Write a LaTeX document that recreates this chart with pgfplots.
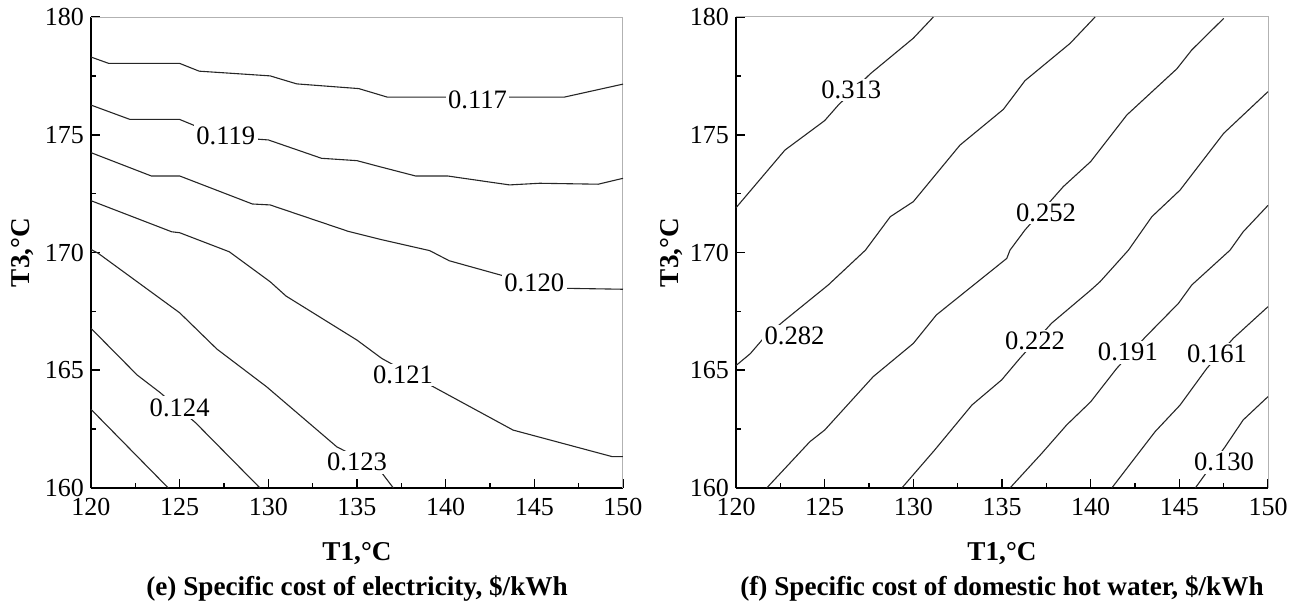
\documentclass[border=0pt]{standalone}
\usepackage{fontspec}
\setmainfont{Liberation Serif}
\usepackage{pgfplots}
\pgfplotsset{compat=1.18}

\pgfplotsset{
  costmap/.style={
    scale only axis, width=266pt, height=235.5pt,
    xmin=120, xmax=150, ymin=160, ymax=180,
    xtick={120,125,...,150}, ytick={160,165,...,180},
    minor x tick num=1, minor y tick num=1,
    axis x line*=bottom, axis y line*=left,
    axis line style={black, line width=1.1pt},
    tick align=inside, major tick length=4.5pt, minor tick length=2.5pt,
    tick style={black, line width=0.8pt},
    tick label style={font=\fontsize{13}{15}\selectfont},
    xticklabel style={yshift=-1.5pt},
    /pgf/number format/assume math mode=true,
    label style={font=\bfseries\fontsize{13.6}{16}\selectfont},
    x label style={at={(axis description cs:0.5,0)}, anchor=base, yshift=-36pt},
    clip=false,
  },
  cline/.style={black!85, line width=0.55pt, no marks},
}
\tikzset{
  lbl/.style={fill=white, inner sep=1.2pt, font=\fontsize{13.3}{15}\selectfont},
  captext/.style={font=\bfseries\fontsize{13.6}{16}\selectfont, anchor=base},
}

\begin{document}
\begin{tikzpicture}
% (e) electricity
\begin{axis}[costmap, at={(0,0)},
    xlabel={T1,°C}, ylabel={T3,°C},
    y label style={at={(axis description cs:-0.115,0.5)}, anchor=base}]
  \draw[gray!60, line width=0.5pt] (rel axis cs:0,1) -- (rel axis cs:1,1) -- (rel axis cs:1,0);
  \addplot[cline] coordinates {(120,178.3)(121,178.03)(125,178.03)(126.1,177.7)(130.1,177.5)(131.6,177.16)(135.1,176.96)(136.7,176.6)(146.7,176.6)(150,177.15)};
  \addplot[cline] coordinates {(120,176.26)(122.2,175.65)(125,175.65)(125.9,175.37)(129.25,174.82)(130,174.78)(133,174.0)(135,173.9)(136.3,173.64)(138.3,173.25)(140.1,173.25)(143.6,172.87)(145.3,172.94)(148.6,172.9)(150,173.15)};
  \addplot[cline] coordinates {(120,174.24)(123.4,173.25)(125,173.25)(129.1,172.06)(130.1,172.02)(134.5,170.9)(136.3,170.56)(139.1,170.08)(140.2,169.65)(143.3,169.0)(146.7,168.48)(150,168.44)};
  \addplot[cline] coordinates {(120,172.2)(124.55,170.88)(125,170.84)(127.8,170.03)(130.1,168.76)(131,168.15)(135,166.28)(136.4,165.5)(139.3,164.3)(143.8,162.46)(149.4,161.33)(150,161.33)};
  \addplot[cline] coordinates {(120,170.13)(120.4,169.97)(125,167.44)(127.1,165.9)(129.9,164.3)(133.86,161.75)(136.2,160.84)(137.05,160)};
  \addplot[cline] coordinates {(120,166.78)(122.6,164.8)(123.9,164.05)(125.9,162.77)(129.53,160)};
  \addplot[cline] coordinates {(120,163.34)(124.36,160)};
  \node[lbl] at (axis cs:141.8,176.5) {0.117};
  \node[lbl] at (axis cs:127.6,174.95) {0.119};
  \node[lbl] at (axis cs:145.0,168.7) {0.120};
  \node[lbl] at (axis cs:137.6,164.8) {0.121};
  \node[lbl] at (axis cs:135.0,161.1) {0.123};
  \node[lbl] at (axis cs:125.0,163.4) {0.124};
  \node[captext] at ([yshift=-53.5pt]axis description cs:0.5,0) {(e) Specific cost of electricity, \$/kWh};
\end{axis}
% (f) domestic hot water
\begin{axis}[costmap, at={(322.5pt,0)},
    xlabel={T1,°C}, ylabel={T3,°C},
    y label style={at={(axis description cs:-0.108,0.5)}, anchor=base}]
  \draw[gray!60, line width=0.5pt] (rel axis cs:0,1) -- (rel axis cs:1,1) -- (rel axis cs:1,0);
  \addplot[cline] coordinates {(120,171.9)(122.76,174.35)(125,175.6)(125.77,176.26)(127.56,177.58)(130,179.1)(131.13,180)};
  \addplot[cline] coordinates {(120,165.2)(120.8,165.7)(121.6,166.4)(122.76,167.13)(125.2,168.62)(127.3,170.1)(128.7,171.52)(130,172.16)(132.63,174.56)(135.08,176.08)(136.3,177.3)(138.84,178.88)(140.25,180)};
  \addplot[cline] coordinates {(121.73,160)(124.17,161.97)(125,162.46)(127.74,164.73)(130,166.14)(131.3,167.35)(135.27,169.75)(135.45,170.1)(136.3,170.96)(138.46,172.8)(140,173.86)(142.04,175.84)(144.86,177.8)(145.7,178.6)(147.5,179.94)};
  \addplot[cline] coordinates {(129.35,160)(131.2,161.61)(133.3,163.52)(134.98,164.59)(136.0,165.5)(137.8,167.0)(140,168.4)(140.53,168.76)(142.13,170.1)(143.45,171.52)(145.04,172.65)(147.5,175.06)(150,176.83)};
  \addplot[cline] coordinates {(135.45,160)(137.24,161.47)(138.65,162.68)(140,163.66)(141.47,165.08)(143.07,166.4)(144.95,167.84)(145.7,168.62)(147.86,170.1)(148.6,170.88)(150,172.0)};
  \addplot[cline] coordinates {(141.19,160)(143.63,162.39)(145.04,163.52)(146.55,165.08)(148.05,166.36)(150,167.7)};
  \addplot[cline] coordinates {(145.9,160)(146.36,160.48)(147.58,161.75)(148.6,162.89)(150,163.88)};
  \node[lbl] at (axis cs:126.5,176.9) {0.313};
  \node[lbl] at (axis cs:123.3,166.45) {0.282};
  \node[lbl] at (axis cs:137.48,171.68) {0.252};
  \node[lbl] at (axis cs:136.86,166.24) {0.222};
  \node[lbl] at (axis cs:142.1,165.77) {0.191};
  \node[lbl] at (axis cs:147.13,165.69) {0.161};
  \node[lbl] at (axis cs:147.52,161.1) {0.130};
  \node[captext] at ([yshift=-53.5pt]axis description cs:0.5,0) {(f) Specific cost of domestic hot water, \$/kWh};
\end{axis}
\pgfresetboundingbox
\path[use as bounding box] (-45.5pt,-58.5pt) rectangle (605pt,244pt);
\end{tikzpicture}
\end{document}
